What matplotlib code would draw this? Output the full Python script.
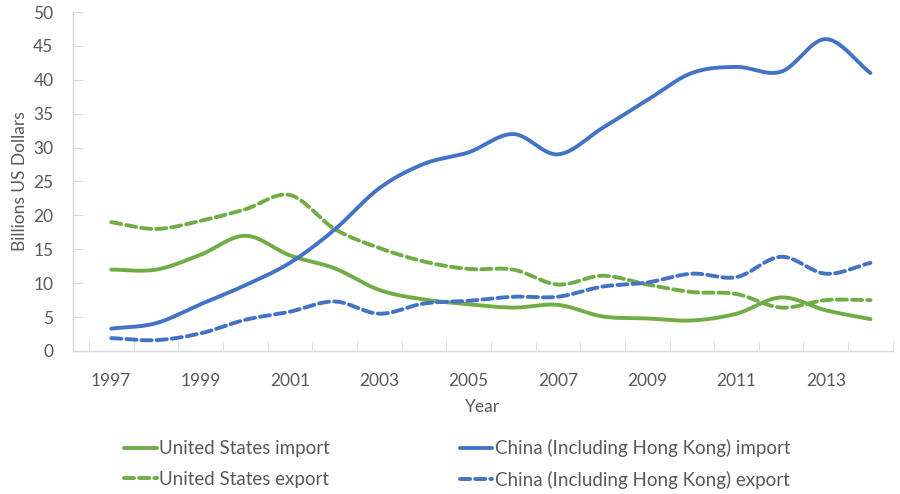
import matplotlib
matplotlib.use("Agg")
import matplotlib.pyplot as plt
from matplotlib.lines import Line2D
import numpy as np

# trade values, billions of US dollars
years = list(range(1997, 2015))
us_import = [12.0, 12.0, 14.2, 17.0, 14.1, 12.2, 9.0, 7.6, 6.9, 6.4, 6.8, 5.1, 4.8, 4.5, 5.5, 7.9, 6.0, 4.7]
us_export = [19.0, 18.0, 19.2, 20.9, 23.0, 18.0, 15.2, 13.2, 12.1, 12.0, 9.8, 11.1, 9.8, 8.7, 8.4, 6.4, 7.5, 7.5]
cn_import = [3.3, 4.1, 6.9, 9.7, 13.0, 17.9, 24.0, 27.6, 29.3, 32.0, 29.0, 32.9, 37.0, 41.0, 41.9, 41.2, 46.0, 41.0]
cn_export = [1.9, 1.6, 2.6, 4.6, 5.8, 7.3, 5.5, 7.0, 7.4, 8.0, 8.0, 9.5, 10.1, 11.4, 10.9, 13.9, 11.4, 13.0]

GREEN = "#70AD47"
BLUE = "#4472C4"
TXT = "#595959"
AXC = "#D9D9D9"

plt.rcParams['font.family'] = ['Lato', 'DejaVu Sans']


def smooth(x, y, n=30):
    # cardinal (Catmull-Rom) spline through the points, like Excel's smoothed line
    x = np.asarray(x, float)
    y = np.asarray(y, float)
    xs, ys = [], []
    for i in range(len(x) - 1):
        p0 = i - 1 if i > 0 else i
        p3 = i + 2 if i + 2 < len(x) else i + 1
        mx1 = (x[i + 1] - x[p0]) / (2 if i > 0 else 1)
        my1 = (y[i + 1] - y[p0]) / (2 if i > 0 else 1)
        mx2 = (x[p3] - x[i]) / (2 if i + 2 < len(x) else 1)
        my2 = (y[p3] - y[i]) / (2 if i + 2 < len(x) else 1)
        t = np.linspace(0, 1, n, endpoint=False)
        h00 = 2 * t**3 - 3 * t**2 + 1
        h10 = t**3 - 2 * t**2 + t
        h01 = -2 * t**3 + 3 * t**2
        h11 = t**3 - t**2
        xs.append(h00 * x[i] + h10 * mx1 + h01 * x[i + 1] + h11 * mx2)
        ys.append(h00 * y[i] + h10 * my1 + h01 * y[i + 1] + h11 * my2)
    xs.append([x[-1]])
    ys.append([y[-1]])
    return np.concatenate(xs), np.concatenate(ys)


fig = plt.figure(figsize=(9, 4.94), dpi=100)
ax = fig.add_axes([0.081, 0.2895, 0.911, 0.6862])

lw = 2.8
dash = (2.6, 1.3)
# column-wise order for the two-column legend
series = [
    (us_import, GREEN, "-", "United States import"),
    (us_export, GREEN, "--", "United States export"),
    (cn_import, BLUE, "-", "China (Including Hong Kong) import"),
    (cn_export, BLUE, "--", "China (Including Hong Kong) export"),
]
for vals, col, ls, lab in series:
    sx, sy = smooth(years, vals)
    ln, = ax.plot(sx, sy, color=col, lw=lw, solid_capstyle="round",
                  dash_capstyle="round", label=lab)
    if ls == "--":
        ln.set_dashes(dash)

ax.set_ylim(0, 50)
ax.set_xlim(1996.14, 2014.5)
ax.set_yticks(range(0, 51, 5))
ax.set_xticks(range(1997, 2014, 2))
ax.set_xticks(np.arange(1996.5, 2015, 1), minor=True)

for s in ["top", "right"]:
    ax.spines[s].set_visible(False)
for s in ["left", "bottom"]:
    ax.spines[s].set_color(AXC)
    ax.spines[s].set_linewidth(1.0)

ax.tick_params(axis="y", direction="in", length=7, color=AXC, labelcolor=TXT,
               labelsize=12.5, pad=14)
ax.tick_params(axis="x", which="major", length=0, labelcolor=TXT,
               labelsize=12.5, pad=16)
ax.tick_params(axis="x", which="minor", direction="in", length=7, color=AXC)

ax.set_xlabel("Year", color=TXT, fontsize=12.5, labelpad=7)
ax.set_ylabel("Billions US Dollars", color=TXT, fontsize=12.5, labelpad=4)

handles = [Line2D([0], [0], color=c, lw=lw, ls=ls, dashes=dash if ls == "--" else (None, None),
                  solid_capstyle="round", dash_capstyle="round") for _, c, ls, _ in series]
labels = [s[3] for s in series]
fig.legend(handles, labels, ncol=2, loc="center", bbox_to_anchor=(0.508, 0.0607),
           frameon=False, fontsize=13.5, labelcolor=TXT, handlelength=1.75,
           handletextpad=0.12, columnspacing=6.9, labelspacing=0.72)

fig.savefig("out.png", dpi=100)
